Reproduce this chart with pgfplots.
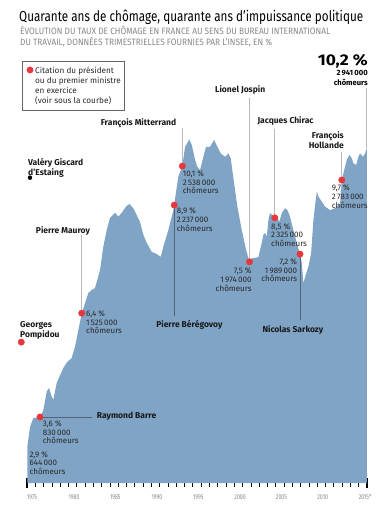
\documentclass[border=0pt]{standalone}
\usepackage{fontspec}
\setmainfont{Fira Sans}
\usepackage{graphicx}
\usepackage{pgfplots}
\pgfplotsset{compat=1.18}
\definecolor{areablue}{RGB}{128,164,197}
\definecolor{dotred}{RGB}{230,55,60}
\definecolor{txtgray}{RGB}{135,135,135}
\definecolor{valtxt}{RGB}{40,40,40}
\definecolor{lightline}{RGB}{185,185,185}
\definecolor{darkline}{RGB}{85,100,118}
\newlength\fitlen
\newcommand{\fitw}[2]{\settowidth{\fitlen}{#2}\pgfmathsetmacro\fitscale{#1/\fitlen}\scalebox{\fitscale}[1]{#2}}
\newcommand{\vlab}[6]{%
  \node[val,anchor=#1] at (#2,-#3) {#4};
  \node[val,anchor=#1] at (#2,-#3-8.7) {#5};
  \node[val,anchor=#1] at (#2,-#3-17.4) {#6};}
\begin{document}
\begin{tikzpicture}[x=1pt,y=1pt,
  val/.style={font=\fontsize{8}{8.7}\selectfont, text=valtxt, inner sep=0pt},
  lab/.style={font=\fontsize{8.5}{10}\selectfont\bfseries, text=black!90, inner sep=0pt},
  leg/.style={font=\fontsize{8.2}{10}\selectfont, text=valtxt, inner sep=0pt, anchor=base west}]
\useasboundingbox (0,0) rectangle (388,-508);
% titles
\node[inner sep=0pt, anchor=base west, font=\fontsize{14.5}{15}\selectfont] at (19,-21.5)
  {\fitw{344}{Quarante ans de chômage, quarante ans d’impuissance politique}};
\node[inner sep=0pt, anchor=base west, text=txtgray, font=\fontsize{9.2}{10}\selectfont] at (20,-34.5)
  {\fitw{310}{ÉVOLUTION DU TAUX DE CHÔMAGE EN FRANCE AU SENS DU BUREAU INTERNATIONAL}};
\node[inner sep=0pt, anchor=base west, text=txtgray, font=\fontsize{9.2}{10}\selectfont] at (20,-46)
  {\fitw{252}{DU TRAVAIL, DONNÉES TRIMESTRIELLES FOURNIES PAR L’INSEE, EN \%}};
\begin{axis}[
  at={(27pt,-483pt)}, anchor=south west,
  scale only axis, width=340pt, height=423pt,
  xmin=1975, xmax=2016, ymin=1.89, ymax=12.849,
  clip=false,
  axis x line*=bottom, axis y line=none,
  x axis line style={draw=none},
  xtick={1975,...,2016},
  xticklabels={1975,,,,,1980,,,,,1985,,,,,1990,,,,,1995,,,,,2000,,,,,2005,,,,,2010,,,,,2015*,},
  tick align=center,
  major tick length=8pt,
  major tick style={black, line width=0.7pt},
  xticklabel style={font=\fontsize{7}{7}\selectfont, text=txtgray, anchor=base west, inner sep=0pt, xscale=0.75, yshift=-12pt},
  extra x ticks={1975,2016}, extra x tick labels={},
  extra x tick style={major tick length=10pt, major tick style={line width=1.4pt, black}},
]
\addplot[fill=areablue, draw=none] coordinates {
(1975.04,1.89)(1975.04,2.83)(1975.36,3.34)(1975.76,3.57)(1976.57,3.60)(1976.97,3.78)
(1977.38,4.26)(1977.65,4.35)(1977.98,4.13)(1978.17,4.04)(1978.58,4.48)(1978.90,4.64)
(1979.38,4.87)(1979.79,5.01)(1980.39,5.13)(1980.79,5.42)(1981.19,5.85)(1981.60,6.29)
(1982.00,6.55)(1982.39,6.81)(1982.80,6.89)(1983.20,6.94)(1983.81,7.41)(1984.20,8.01)
(1984.61,8.44)(1985.01,8.76)(1985.62,8.89)(1986.01,8.79)(1986.42,8.89)(1986.94,9.05)
(1987.34,9.12)(1987.82,9.01)(1988.23,8.83)(1988.63,8.65)(1989.03,8.32)(1989.44,8.11)
(1990.04,7.88)(1990.65,7.82)(1991.13,7.75)(1991.44,8.01)(1992.04,8.44)(1992.65,8.96)
(1993.25,9.83)(1993.73,10.10)(1994.06,10.60)(1994.58,10.79)(1994.87,10.65)(1995.27,10.26)
(1995.54,10.08)(1995.87,10.00)(1996.27,10.34)(1996.59,10.60)(1997.07,10.60)(1997.56,10.78)
(1997.96,10.60)(1998.37,10.43)(1998.88,10.34)(1999.28,10.43)(1999.57,10.30)(1999.97,9.66)
(2000.37,9.05)(2000.90,8.44)(2001.42,7.93)(2001.82,7.62)(2002.11,7.71)(2002.90,7.74)
(2003.31,8.11)(2003.50,8.32)(2003.71,8.37)(2003.91,8.27)(2004.11,8.70)(2004.31,8.89)
(2004.88,8.76)(2005.12,8.79)(2005.43,8.66)(2005.72,8.88)(2006.12,9.01)(2006.40,8.96)
(2006.72,8.79)(2007.12,8.44)(2007.53,8.11)(2007.93,7.82)(2008.14,7.58)(2008.33,7.06)
(2008.53,7.23)(2008.93,7.49)(2009.26,7.84)(2009.54,8.70)(2009.74,9.09)(2009.95,9.44)
(2010.14,9.31)(2010.55,9.18)(2010.95,9.05)(2011.55,8.96)(2012.15,9.01)(2012.76,9.14)
(2012.96,9.74)(2013.15,9.91)(2013.56,10.26)(2013.88,10.39)(2014.17,10.30)(2014.36,10.17)
(2014.69,10.13)(2014.96,10.34)(2015.17,10.43)(2015.49,10.34)(2015.77,10.43)(2015.98,10.56)
(2015.98,1.89)};
% leader lines
\draw[lightline, line width=0.8pt] (axis cs:1993.73,11.087) -- (axis cs:1993.73,10.10);
\draw[lightline, line width=0.8pt] (axis cs:2001.83,11.864) -- (axis cs:2001.83,7.62);
\draw[lightline, line width=0.8pt] (axis cs:2004.88,11.061) -- (axis cs:2004.88,8.76);
\draw[lightline, line width=0.8pt] (axis cs:2012.96,10.465) -- (axis cs:2012.96,9.74);
\draw[lightline, line width=0.8pt] (axis cs:2015.96,12.123) -- (axis cs:2015.96,10.569);
\draw[lightline, line width=0.8pt] (axis cs:1981.60,8.315) -- (axis cs:1981.60,6.29);
\draw[darkline, line width=0.8pt] (axis cs:1992.76,9.09) -- (axis cs:1992.76,6.217);
\draw[darkline, line width=0.8pt] (axis cs:2007.92,7.82) -- (axis cs:2007.92,6.113);
\draw[darkline, line width=0.8pt] (axis cs:1976.57,3.60) -- (axis cs:1982.80,3.60);
% quotation dots
\addplot[only marks, mark=*, mark size=3.2pt, color=dotred, mark options={draw=none, fill=dotred}] coordinates {
(1976.57,3.60)(1981.60,6.29)(1992.76,9.09)(1993.73,10.10)(2001.83,7.62)
(2004.88,8.76)(2007.92,7.82)(2012.96,9.74)(1974.31,5.54)(1975.36,12.59)};
\addplot[only marks, mark=*, mark size=2pt, color=black] coordinates {(1975.36,9.80)};
\end{axis}
% legend box
\draw[black!60, line width=0.8pt] (22.7,-61) rectangle (124,-110);
\node[leg] at (35,-73.2) {Citation du président};
\node[leg] at (35,-83.4) {ou du premier ministre};
\node[leg] at (35,-93.6) {en exercice};
\node[leg] at (35,-103.8) {(voir sous la courbe)};
% big figure
\node[inner sep=0pt, anchor=base east, font=\fontsize{15.5}{16}\selectfont\bfseries] at (368,-65.5) {\fitw{50}{10,2 \%}};
\node[inner sep=0pt, anchor=base east, font=\fontsize{7.6}{8}\selectfont\bfseries] at (368,-76) {2\,941\,000};
\node[inner sep=0pt, anchor=base east, font=\fontsize{7.6}{8}\selectfont\bfseries] at (368,-85.2) {chômeurs};
% names
\node[lab, anchor=base west] at (100.7,-125) {François Mitterrand};
\node[lab, anchor=base west] at (28,-165) {Valéry Giscard};
\node[lab, anchor=base west] at (28,-175) {d’Estaing};
\node[lab, anchor=base west] at (215,-93) {Lionel Jospin};
\node[lab, anchor=base west] at (257.3,-123) {Jacques Chirac};
\node[lab, anchor=base east] at (344,-138) {François};
\node[lab, anchor=base east] at (344,-148.7) {Hollande};
\node[lab, anchor=base west] at (35.7,-233) {Pierre Mauroy};
\node[lab, anchor=base west] at (20,-327) {Georges};
\node[lab, anchor=base west] at (20,-337) {Pompidou};
\node[lab, anchor=base west] at (96.7,-418.5) {Raymond Barre};
\node[lab, anchor=base east] at (222.7,-327) {Pierre Bérégovoy};
\node[lab, anchor=base west] at (262.3,-332) {Nicolas Sarkozy};
% values
\vlab{base west}{29.3}{457}{2,9 \%}{644\,000}{chômeurs}
\vlab{base west}{42.7}{426.3}{3,6 \%}{830\,000}{chômeurs}
\vlab{base west}{86}{316.3}{6,4 \%}{1\,525\,000}{chômeurs}
\vlab{base west}{182.7}{176.3}{10,1 \%}{2\,538\,000}{chômeurs}
\vlab{base west}{176.7}{213.7}{8,9 \%}{2\,237\,000}{chômeurs}
\vlab{base east}{251.7}{273.7}{7,5 \%}{1\,974\,000}{chômeurs}
\vlab{base west}{271}{229}{8,5 \%}{2\,325\,000}{chômeurs}
\vlab{base east}{297.3}{264.3}{7,2 \%}{1\,989\,000}{chômeurs}
\vlab{base west}{331.7}{190.7}{9,7 \%}{2\,783\,000}{chômeurs}
\end{tikzpicture}
\end{document}
